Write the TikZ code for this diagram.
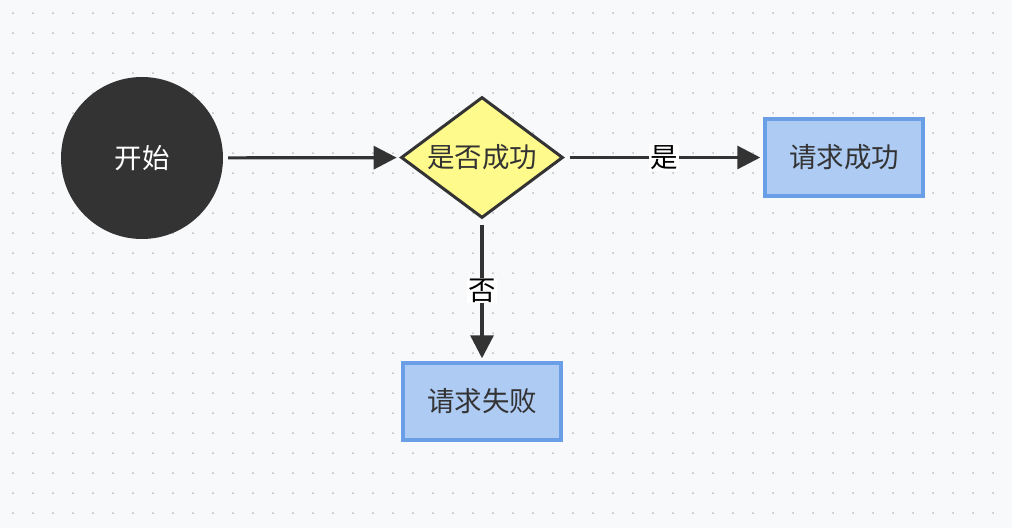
\documentclass[tikz,border=0pt]{standalone}
\usepackage{fontspec}
\newfontfamily\cjk{Noto Sans CJK SC}
\usetikzlibrary{shapes.geometric,arrows.meta,positioning}
\definecolor{bgpaper}{RGB}{248,249,251}
\definecolor{griddot}{RGB}{185,187,192}
\definecolor{darkline}{RGB}{51,51,51}
\definecolor{askfill}{RGB}{255,250,140}
\definecolor{boxfill}{RGB}{173,203,243}
\definecolor{boxline}{RGB}{106,158,230}
\begin{document}
\begin{tikzpicture}[x=1pt, y=-1pt, font=\cjk\fontsize{27.5}{32}\selectfont,
    startball/.style={circle, fill=darkline, text=white, minimum size=162pt, inner sep=0pt},
    askbox/.style={diamond, draw=darkline, line width=3pt, fill=askfill, text=darkline,
        aspect=1.34, inner sep=0pt, minimum width=162pt, minimum height=121pt},
    endbox/.style={rectangle, draw=boxline, line width=3.5pt, fill=boxfill, text=darkline,
        minimum width=158pt, minimum height=77pt},
    flowline/.style={line width=3.2pt, draw=darkline, -{Triangle[length=23pt,width=23pt]},
        shorten <=5pt, shorten >=3pt},
    flowlabel/.style={midway, fill=white, text=black, inner sep=1pt}]
    \fill [bgpaper] (0, 0) rectangle (1012, 528);
    \foreach \x in {13, 33, ..., 993} {
        \foreach \y in {13, 33, ..., 513} {
            \fill [griddot] (\x, \y) circle (1pt);
            }
        }
    \node [startball] (start) at (142, 158) {开始};
    \node [askbox] (ask) at (482, 157.5) {是否成功};
    \node [endbox] (okbox) at (844, 157.5) {请求成功};
    \node [endbox] (failbox) at (482, 401.5) {请求失败};
    \draw [flowline] (start) -- (ask);
    \draw [flowline] (ask) -- (okbox) node [flowlabel] {是};
    \draw [flowline] (ask) -- (failbox) node [flowlabel] {否};
\end{tikzpicture}
\end{document}
